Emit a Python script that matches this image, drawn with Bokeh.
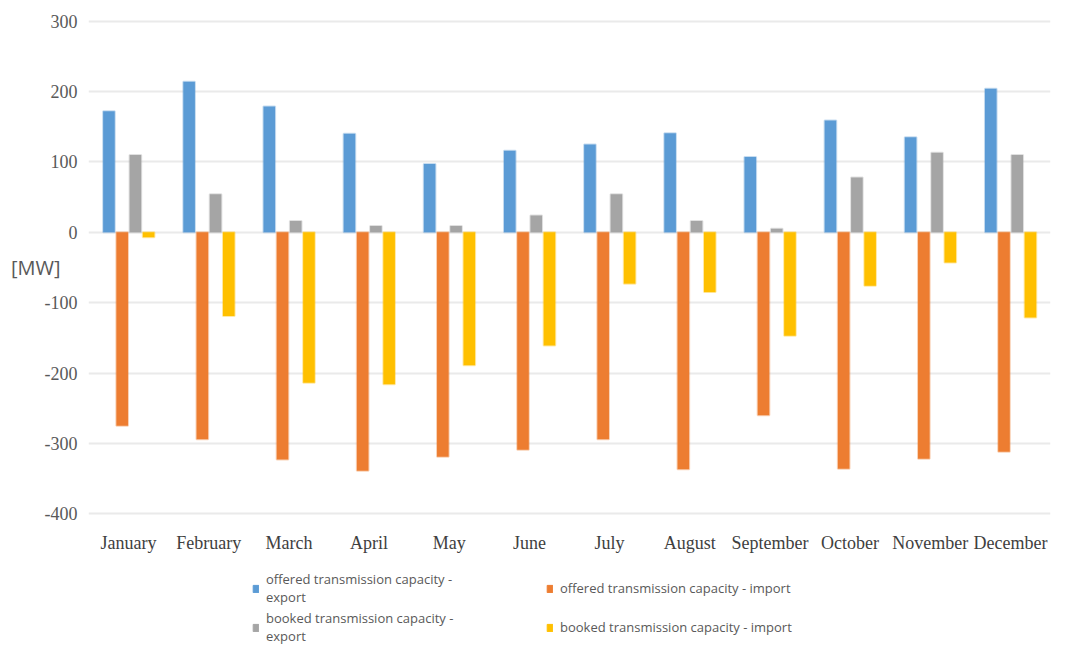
from bokeh.plotting import figure
from bokeh.layouts import column
from bokeh.models import (FactorRange, Range1d, FixedTicker, Legend, LegendItem,
                          ColumnDataSource)
from bokeh.transform import dodge
from bokeh.embed import file_html
from bokeh.resources import INLINE

months = ["January", "February", "March", "April", "May", "June", "July",
          "August", "September", "October", "November", "December"]
offered_export = [172, 214, 179, 140, 97, 116, 125, 141, 107, 159, 135, 204]
offered_import = [-275, -294, -323, -339, -319, -309, -294, -337, -260, -336, -322, -312]
booked_export = [110, 54, 16, 9, 9, 24, 54, 16, 5, 78, 113, 110]
booked_import = [-7, -119, -214, -216, -189, -161, -73, -85, -147, -76, -43, -121]
y_ticks = [-400, -300, -200, -100, 0, 100, 200, 300]

series_names = ["offered transmission capacity -\nexport",
                "offered transmission capacity - import",
                "booked transmission capacity -\nexport",
                "booked transmission capacity - import"]
series_cols = ["oe", "oi", "be", "bi"]
colors = ["#5B9BD5", "#ED7D31", "#A5A5A5", "#FFC000"]
offsets = [-0.245, -0.08, 0.085, 0.25]

src = ColumnDataSource(dict(month=months, oe=offered_export, oi=offered_import,
                            be=booked_export, bi=booked_import))

p = figure(x_range=FactorRange(*months, range_padding=0),
           y_range=Range1d(-404, 304),
           frame_width=962, frame_height=498,
           min_border_left=88, min_border_right=11, min_border_top=18, min_border_bottom=45,
           output_backend="svg", toolbar_location=None)
p.outline_line_color = None
p.background_fill_color = "white"
p.border_fill_color = "white"

for col, c, off in zip(series_cols, colors, offsets):
    p.vbar(x=dodge("month", off, range=p.x_range), top=col, bottom=0, width=0.145,
           source=src, fill_color=c, line_color=c, line_alpha=0.35, line_width=2)

# axes
p.yaxis.ticker = FixedTicker(ticks=y_ticks)
p.yaxis.major_label_overrides = {t: str(t) for t in y_ticks}
p.yaxis.axis_line_color = None
p.yaxis.major_tick_line_color = None
p.yaxis.major_tick_out = 0
p.yaxis.minor_tick_line_color = None
p.yaxis.minor_tick_out = 0
p.yaxis.major_label_text_font = "Liberation Serif"
p.yaxis.major_label_text_font_size = "18px"
p.yaxis.major_label_text_color = "#595959"
p.yaxis.major_label_standoff = 11
p.yaxis.axis_label = "[MW]"
p.yaxis.axis_label_orientation = "horizontal"
p.yaxis.axis_label_standoff = -19
p.yaxis.axis_label_text_font = "Open Sans"
p.yaxis.axis_label_text_font_style = "normal"
p.yaxis.axis_label_text_font_size = "20px"
p.yaxis.axis_label_text_color = "#595959"

p.xaxis.axis_line_color = None
p.xaxis.major_tick_line_color = None
p.xaxis.major_tick_out = 0
p.xaxis.minor_tick_line_color = None
p.xaxis.major_label_text_font = "Liberation Serif"
p.xaxis.major_label_text_font_size = "18px"
p.xaxis.major_label_text_color = "#404040"
p.xaxis.major_label_standoff = 16

p.xgrid.grid_line_color = None
p.ygrid.grid_line_color = "#EAEAEA"
p.ygrid.grid_line_width = 2

# legend panel (separate figure below the chart); its swatches sit outside its visible range
lg = figure(width=1061, height=85, x_range=Range1d(0, 1), y_range=Range1d(0, 1),
            min_border=0, x_axis_type=None, y_axis_type=None,
            output_backend="svg", toolbar_location=None)
lg.outline_line_color = None
lg.xgrid.grid_line_color = None
lg.ygrid.grid_line_color = None
lg_renderers = [lg.vbar(x=[5], top=[0], width=0.1, fill_color=c, line_color=c) for c in colors]
items = [LegendItem(label=n, renderers=[r]) for n, r in zip(series_names, lg_renderers)]
legend = Legend(items=items, orientation="horizontal", ncols=2,
                location=(164, 1), padding=0, margin=0, spacing=3,
                label_text_font="Open Sans", label_text_font_size="13px",
                label_text_line_height=0.95, label_width=277,
                label_text_color="#595959", glyph_width=7, glyph_height=9,
                label_standoff=7, border_line_color=None, background_fill_alpha=0)
lg.add_layout(legend, "center")

layout = column(p, lg, spacing=0)
open("out.html", "w").write(file_html(layout, INLINE))
